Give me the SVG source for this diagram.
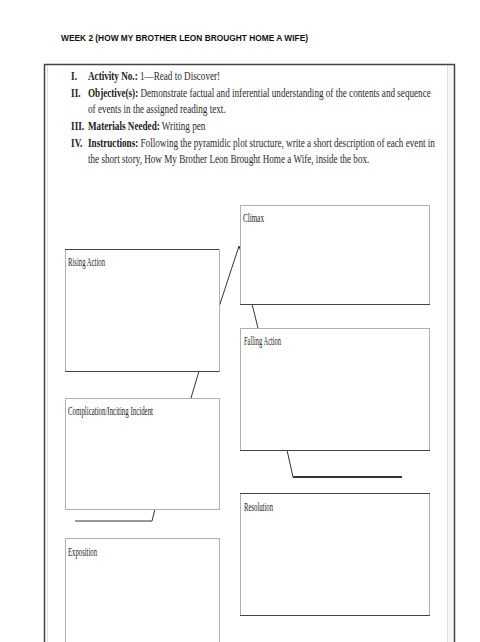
<svg xmlns="http://www.w3.org/2000/svg" width="480" height="642" viewBox="0 0 480 642">
<style>
.title{font-family:"Liberation Sans",Arial,sans-serif;font-weight:bold;font-size:9.5px;fill:#111}
.body{font-family:"Liberation Serif","Times New Roman",serif;font-size:13.5px;fill:#2a2a2a}
.b{font-weight:bold;fill:#1a1a1a}
.lbl{font-family:"Liberation Serif","Times New Roman",serif;font-size:12.5px;fill:#222}
.box{fill:#fff;stroke:#b0b0b0;stroke-width:1}
.dk{stroke:#444;stroke-width:1.2;fill:none}
.conn{stroke:#333;stroke-width:1;fill:none}
</style>
<rect width="480" height="642" fill="#fff"/>
<text class="title" x="61" y="41" textLength="247" lengthAdjust="spacingAndGlyphs">WEEK 2 (HOW MY BROTHER LEON BROUGHT HOME A WIFE)</text>
<g id="frame">
<rect x="447" y="64" width="7" height="580" fill="#f6f6f6"/>
<line x1="447.5" y1="64" x2="447.5" y2="642" stroke="#ddd"/>
<line x1="47.5" y1="64" x2="47.5" y2="642" stroke="#ddd"/>
<path d="M44.5 644 V64.5 H454.5 V644" fill="none" stroke="#444" stroke-width="1.5"/>
</g>
<g id="instructions">
<text class="body" transform="matrix(0.677,0,0,1,88,80)"><tspan class="b" x="-25">I.</tspan><tspan class="b" x="0">Activity No.:</tspan> 1—Read to Discover!</text>
<text class="body" transform="matrix(0.677,0,0,1,88,97)"><tspan class="b" x="-25">II.</tspan><tspan class="b" x="0">Objective(s):</tspan> Demonstrate factual and inferential understanding of the contents and sequence</text>
<text class="body" transform="matrix(0.677,0,0,1,88,113)" x="0">of events in the assigned reading text.</text>
<text class="body" transform="matrix(0.677,0,0,1,88,130)"><tspan class="b" x="-25">III.</tspan><tspan class="b" x="0">Materials Needed:</tspan> Writing pen</text>
<text class="body" transform="matrix(0.677,0,0,1,88,147)"><tspan class="b" x="-25">IV.</tspan><tspan class="b" x="0">Instructions:</tspan> Following the pyramidic plot structure, write a short description of each event in</text>
<text class="body" transform="matrix(0.677,0,0,1,88,163)" x="0">the short story, How My Brother Leon Brought Home a Wife, inside the box.</text>
</g>
<g id="connectors">
<path class="conn" d="M219 307 L239 246 L241 252"/>
<path class="conn" d="M252 304 L258 328"/>
<path class="conn" d="M199 371 L191 398"/>
<path class="conn" d="M287 450 L293 477"/>
<line x1="293" y1="477" x2="402" y2="477" stroke="#333" stroke-width="2"/>
<path class="conn" d="M155 509 L152 521 L75 521"/>
</g>
<g id="climax">
<rect class="box" x="240.5" y="205.5" width="189" height="99"/>
<line class="dk" x1="240" y1="304.5" x2="430" y2="304.5"/>
<text class="lbl" x="243" y="222" textLength="21" lengthAdjust="spacingAndGlyphs">Climax</text>
</g>
<g id="rising-action">
<rect class="box" x="65.5" y="249.5" width="154" height="122"/>
<line class="dk" x1="65" y1="249.5" x2="219" y2="249.5"/>
<line class="dk" x1="65" y1="371.5" x2="219" y2="371.5"/>
<text class="lbl" x="68" y="266" textLength="37" lengthAdjust="spacingAndGlyphs">Rising Action</text>
</g>
<g id="falling-action">
<rect class="box" x="240.5" y="328.5" width="189" height="122"/>
<line class="dk" x1="240" y1="450.5" x2="430" y2="450.5"/>
<text class="lbl" x="244" y="345" textLength="37" lengthAdjust="spacingAndGlyphs">Falling Action</text>
</g>
<g id="complication">
<rect class="box" x="65.5" y="398.5" width="154" height="111"/>
<text class="lbl" x="68" y="415" textLength="85" lengthAdjust="spacingAndGlyphs">Complication/Inciting Incident</text>
</g>
<g id="resolution">
<rect class="box" x="240.5" y="493.5" width="189" height="122"/>
<line class="dk" x1="240" y1="493.5" x2="430" y2="493.5" stroke="#777"/>
<line class="dk" x1="240" y1="615.5" x2="430" y2="615.5"/>
<text class="lbl" x="244" y="511" textLength="29" lengthAdjust="spacingAndGlyphs">Resolution</text>
</g>
<g id="exposition">
<rect class="box" x="65.5" y="538.5" width="154" height="110"/>
<text class="lbl" x="68" y="556" textLength="29" lengthAdjust="spacingAndGlyphs">Exposition</text>
</g>
</svg>
